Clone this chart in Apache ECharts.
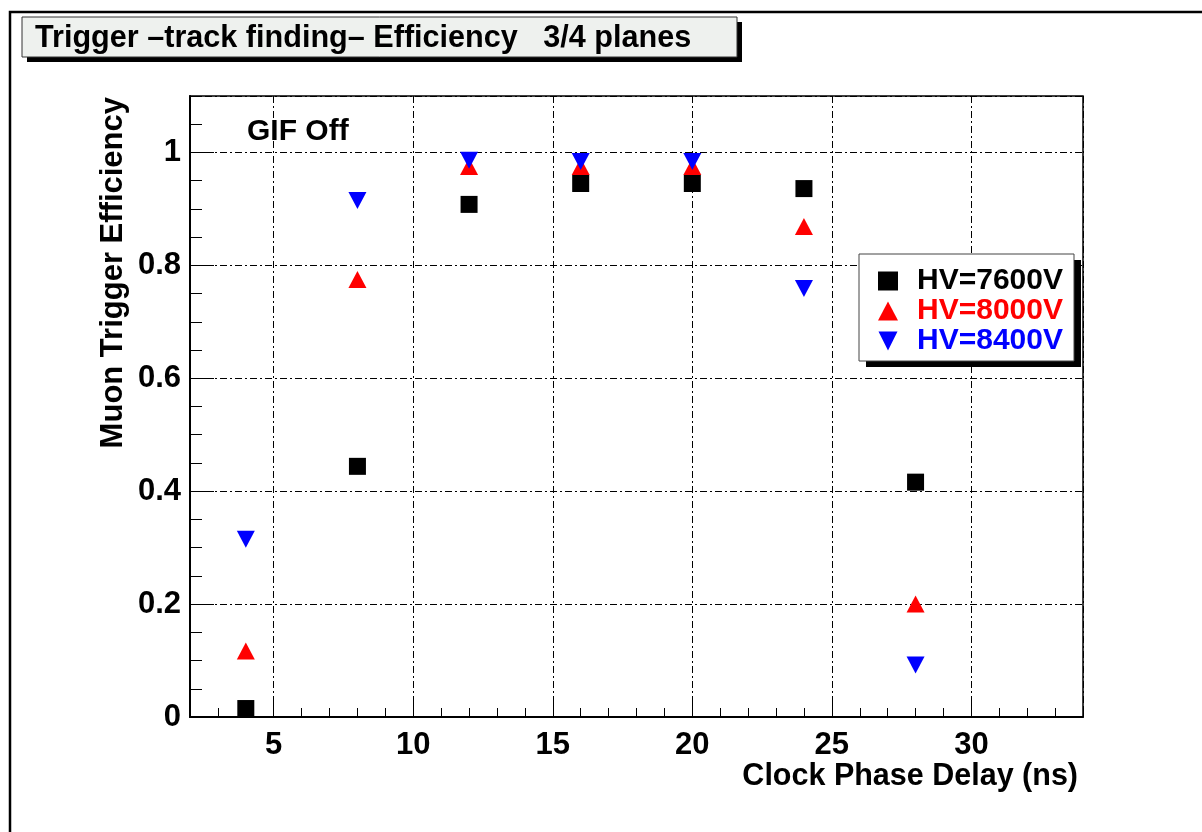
<!DOCTYPE html>
<html>
<head>
<meta charset="utf-8">
<title>Trigger Efficiency</title>
<script src="https://cdn.jsdelivr.net/npm/echarts@6/dist/echarts.min.js"></script>
<style>
  html, body { margin: 0; padding: 0; background: #fff; }
  #chart { width: 1202px; height: 832px; }
</style>
</head>
<body>
<div id="chart"></div>
<script>
// clock phase delay (ns)
const delays = [4, 8, 12, 16, 20, 24, 28];
// muon trigger efficiency per HV setting
const eff7600 = [0.015, 0.444, 0.908, 0.945, 0.945, 0.936, 0.416];
const eff8000 = [0.117, 0.775, 0.975, 0.975, 0.975, 0.869, 0.200];
const eff8400 = [0.315, 0.915, 0.986, 0.984, 0.984, 0.759, 0.092];
const seriesNames = ['HV=7600V', 'HV=8000V', 'HV=8400V'];
const seriesColors = ['#000000', '#ff0000', '#0000ff'];

const FONT = '"Liberation Sans", Arial, Helvetica, sans-serif';
const downTri = 'path://M0,0L2,0L1,2Z';
const symbols = ['rect', 'triangle', downTri];
const symbolSizes = [17, [18, 17], [18, 17]];
const gridDash = [7, 3, 2, 3];

function pairs(ys) {
  return delays.map((x, i) => [x, ys[i]]);
}

const chart = echarts.init(document.getElementById('chart'));

let option = {
  animation: false,
  backgroundColor: '#fff',
  grid: {
    left: 190, right: 119, top: 96, bottom: 115,
    outerBoundsMode: 'none',
    containLabel: false,
    show: true, borderColor: '#000', borderWidth: 1.5, backgroundColor: 'transparent'
  },
  xAxis: [
    { // minor ticks every 1 ns
      type: 'value', min: 2, max: 34, interval: 1, position: 'bottom',
      axisLine: { show: true, onZero: false, lineStyle: { color: '#000', width: 2 } },
      axisTick: { show: true, inside: true, length: 9, lineStyle: { color: '#000', width: 1 } },
      axisLabel: { show: false },
      splitLine: { show: false }
    },
    { // major ticks, labels and grid
      type: 'value', min: 2, max: 34, splitNumber: 6, position: 'bottom',
      axisLine: { show: false, onZero: false },
      axisTick: { show: true, inside: true, length: 18, lineStyle: { color: '#000', width: 1 } },
      axisLabel: {
        show: true, margin: 13, showMinLabel: false, showMaxLabel: false,
        color: '#000', fontFamily: FONT, fontWeight: 'bold', fontSize: 31
      },
      splitLine: { show: true, lineStyle: { color: '#000', width: 1, type: gridDash } },
      name: 'Clock Phase Delay (ns)',
      nameLocation: 'end',
      nameGap: -5,
      nameMoveOverlap: false,
      nameTextStyle: {
        color: '#000', fontFamily: FONT, fontWeight: 'bold', fontSize: 30.5,
        align: 'right', verticalAlign: 'top', padding: [44, 0, 0, 0]
      }
    }
  ],
  yAxis: [
    { // minor ticks every 0.05
      type: 'value', min: 0, max: 1.1, interval: 0.05, position: 'left',
      axisLine: { show: true, onZero: false, lineStyle: { color: '#000', width: 2 } },
      axisTick: { show: true, inside: true, length: 12, lineStyle: { color: '#000', width: 1 } },
      axisLabel: { show: false },
      splitLine: { show: false }
    },
    { // major ticks, labels and grid
      type: 'value', min: 0, max: 1.1, interval: 0.2, position: 'left',
      axisLine: { show: false, onZero: false },
      axisTick: { show: true, inside: true, length: 24, lineStyle: { color: '#000', width: 1 } },
      axisLabel: {
        show: true, margin: 9, showMaxLabel: false,
        color: '#000', fontFamily: FONT, fontWeight: 'bold', fontSize: 31
      },
      splitLine: { show: true, lineStyle: { color: '#000', width: 1, type: gridDash } },
      name: 'Muon Trigger Efficiency',
      nameLocation: 'end',
      nameGap: -1,
      nameRotate: 90,
      nameMoveOverlap: false,
      nameTextStyle: {
        color: '#000', fontFamily: FONT, fontWeight: 'bold', fontSize: 31,
        align: 'right', verticalAlign: 'bottom', padding: [0, 0, 61, 0]
      }
    }
  ],
  legend: {
    orient: 'vertical',
    left: 878, top: 266,
    padding: 0,
    itemGap: 0,
    itemWidth: 20,
    itemHeight: 19,
    textStyle: {
      fontFamily: FONT, fontWeight: 'bold', fontSize: 30, lineHeight: 28,
      rich: { t: { padding: [0, 0, 0, 14], fontFamily: FONT, fontWeight: 'bold', fontSize: 30 } }
    },
    formatter: name => '{t|' + name + '}',
    data: seriesNames.map((n, i) => ({ name: n, textStyle: { color: seriesColors[i] } })),
    z: 10
  },
  graphic: [
    // canvas frame
    { type: 'polyline', shape: { points: [[10, 832], [10, 12], [1202, 12]] },
      style: { stroke: '#000', lineWidth: 2.5, fill: null }, z: 1 },
    // title box + shadow
    { type: 'rect', shape: { x: 27, y: 22, width: 715, height: 40 }, style: { fill: '#000' }, z: 1 },
    { type: 'rect', shape: { x: 22, y: 17, width: 715, height: 40 },
      style: { fill: '#eef1ee', stroke: '#333', lineWidth: 1 }, z: 2 },
    { type: 'text', x: 35, y: 39,
      style: { text: 'Trigger \u2013track finding\u2013 Efficiency   3/4 planes', fill: '#000',
        font: 'bold 30.6px ' + FONT, verticalAlign: 'middle' }, z: 3 },
    // GIF Off label
    { type: 'text', x: 247, y: 132,
      style: { text: 'GIF Off', fill: '#000', font: 'bold 30px ' + FONT, verticalAlign: 'middle' }, z: 3 },
    // legend box + shadow
    { type: 'rect', shape: { x: 866, y: 260, width: 215, height: 107 }, style: { fill: '#000' }, z: 5 },
    { type: 'rect', shape: { x: 859, y: 254, width: 215, height: 107 },
      style: { fill: '#fff', stroke: '#444', lineWidth: 1 }, z: 6 }
  ],
  series: []
};

const seriesData = [eff7600, eff8000, eff8400];
for (let i = 0; i < seriesData.length; i++) {
  option.series.push({
    name: seriesNames[i],
    type: 'scatter',
    xAxisIndex: 0,
    yAxisIndex: 0,
    data: pairs(seriesData[i]),
    symbol: symbols[i],
    symbolSize: symbolSizes[i],
    itemStyle: { color: seriesColors[i], opacity: 1 },
    z: 4
  });
}

chart.setOption(option);
</script>
</body>
</html>
